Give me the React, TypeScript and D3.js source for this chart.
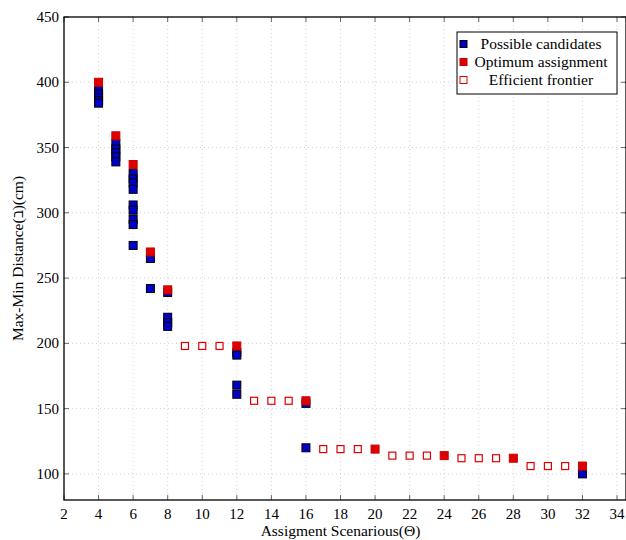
import React, { useRef, useEffect } from "react";
import * as d3 from "d3";

// possible candidates (blue)
const candX = [4, 4, 4, 4, 4, 5, 5, 5, 5, 5, 6, 6, 6, 6, 6, 6, 6, 6, 6, 7, 7, 8, 8, 8, 8, 12, 12, 12, 12, 16, 16, 32];
const candY = [394, 391, 388, 386, 384, 353, 349, 346, 343, 339, 330, 326, 323, 318, 306, 302, 295, 291, 275, 265, 242, 239, 220, 216, 213, 193, 191, 168, 161, 154, 120, 100];

// optimum assignment (red)
const optX = [4, 5, 6, 7, 8, 12, 16, 20, 24, 28, 32];
const optY = [400, 359, 337, 270, 241, 198, 156, 119, 114, 112, 106];

// efficient frontier (open red)
const frontX = [9, 10, 11, 13, 14, 15, 17, 18, 19, 21, 22, 23, 25, 26, 27, 29, 30, 31];
const frontY = [198, 198, 198, 156, 156, 156, 119, 119, 119, 114, 114, 114, 112, 112, 112, 106, 106, 106];

const xTicks = [2, 4, 6, 8, 10, 12, 14, 16, 18, 20, 22, 24, 26, 28, 30, 32, 34];
const yTicks = [100, 150, 200, 250, 300, 350, 400, 450];

const legendLabels = ["Possible candidates", "Optimum assignment", "Efficient frontier"];

const FONT = "'Liberation Serif', 'DejaVu Serif', serif";

const drawChart = (svgEl: SVGSVGElement) => {
	const width = 626,
		height = 540;
	const left = 64,
		right = 626,
		top = 17,
		bottom = 500;

	const svg = d3.select(svgEl);
	svg.selectAll("*").remove();
	svg.attr("width", width).attr("height", height);

	const x = d3.scaleLinear().domain([2, 34.52]).range([left, right]);
	const y = d3.scaleLinear().domain([80, 450]).range([bottom, top]);

	// grid
	const grid = svg.append("g").attr("stroke", "#c8c8c8").attr("stroke-width", 0.8).attr("stroke-dasharray", "1,3");
	grid
		.selectAll("line.gx")
		.data(xTicks)
		.enter()
		.append("line")
		.attr("x1", (d) => x(d))
		.attr("x2", (d) => x(d))
		.attr("y1", top)
		.attr("y2", bottom);
	grid
		.selectAll("line.gy")
		.data(yTicks)
		.enter()
		.append("line")
		.attr("x1", left)
		.attr("x2", right)
		.attr("y1", (d) => y(d))
		.attr("y2", (d) => y(d));

	// inward ticks on all sides
	const ticks = svg.append("g").attr("stroke", "#444").attr("stroke-width", 0.8);
	xTicks.forEach((t) => {
		ticks.append("line").attr("x1", x(t)).attr("x2", x(t)).attr("y1", bottom).attr("y2", bottom - 5);
		ticks.append("line").attr("x1", x(t)).attr("x2", x(t)).attr("y1", top).attr("y2", top + 5);
	});
	yTicks.forEach((t) => {
		ticks.append("line").attr("x1", left).attr("x2", left + 5).attr("y1", y(t)).attr("y2", y(t));
		ticks.append("line").attr("x1", right).attr("x2", right - 5).attr("y1", y(t)).attr("y2", y(t));
	});

	// box
	svg
		.append("rect")
		.attr("x", left)
		.attr("y", top)
		.attr("width", right - left)
		.attr("height", bottom - top)
		.attr("fill", "none")
		.attr("stroke", "#000")
		.attr("stroke-width", 1.3);

	// tick labels
	svg
		.append("g")
		.selectAll("text")
		.data(xTicks)
		.enter()
		.append("text")
		.attr("x", (d) => x(d))
		.attr("y", bottom + 19)
		.attr("text-anchor", "middle")
		.attr("font-family", FONT)
		.attr("font-size", 15)
		.text((d) => d);
	svg
		.append("g")
		.selectAll("text")
		.data(yTicks)
		.enter()
		.append("text")
		.attr("x", left - 5)
		.attr("y", (d) => y(d) + 5)
		.attr("text-anchor", "end")
		.attr("font-family", FONT)
		.attr("font-size", 15)
		.text((d) => d);

	// axis titles
	svg
		.append("text")
		.attr("x", (left + 617) / 2)
		.attr("y", 536)
		.attr("text-anchor", "middle")
		.attr("font-family", FONT)
		.attr("font-size", 15.5)
		.text("Assigment Scenarious(Θ)");
	svg
		.append("text")
		.attr("transform", `translate(23, ${(top + bottom) / 2}) rotate(-90)`)
		.attr("text-anchor", "middle")
		.attr("font-family", FONT)
		.attr("font-size", 15.5)
		.text("Max-Min Distance(ℶ)(cm)");

	const s = 8;
	const marks = svg.append("g");

	marks
		.selectAll("rect.cand")
		.data(candX.map((v, i) => [v, candY[i]]))
		.enter()
		.append("rect")
		.attr("x", (d) => x(d[0]) - s / 2)
		.attr("y", (d) => y(d[1]) - s / 2)
		.attr("width", s)
		.attr("height", s)
		.attr("fill", "#0000c8")
		.attr("stroke", "#000")
		.attr("stroke-width", 1);

	marks
		.selectAll("rect.opt")
		.data(optX.map((v, i) => [v, optY[i]]))
		.enter()
		.append("rect")
		.attr("x", (d) => x(d[0]) - s / 2)
		.attr("y", (d) => y(d[1]) - s / 2)
		.attr("width", s)
		.attr("height", s)
		.attr("fill", "#dd0000")
		.attr("stroke", "#cc0000")
		.attr("stroke-width", 1);

	marks
		.selectAll("rect.front")
		.data(frontX.map((v, i) => [v, frontY[i]]))
		.enter()
		.append("rect")
		.attr("x", (d) => x(d[0]) - s / 2 + 0.5)
		.attr("y", (d) => y(d[1]) - s / 2 + 0.5)
		.attr("width", s - 1)
		.attr("height", s - 1)
		.attr("fill", "#fff")
		.attr("stroke", "#e00000")
		.attr("stroke-width", 1.2);

	// legend
	const lg = svg.append("g").attr("transform", "translate(457, 32)");
	lg.append("rect")
		.attr("width", 160)
		.attr("height", 62)
		.attr("fill", "#fff")
		.attr("stroke", "#000")
		.attr("stroke-width", 1);
	const styles = [
		{ fill: "#0000c8", stroke: "#000" },
		{ fill: "#dd0000", stroke: "#cc0000" },
		{ fill: "#fff", stroke: "#e00000" },
	];
	legendLabels.forEach((lab, i) => {
		const cy = 12 + i * 18;
		lg.append("rect")
			.attr("x", 3)
			.attr("y", cy - 3.5)
			.attr("width", 7)
			.attr("height", 7)
			.attr("fill", styles[i].fill)
			.attr("stroke", styles[i].stroke)
			.attr("stroke-width", 1);
		lg.append("text")
			.attr("x", 84)
			.attr("y", cy + 5)
			.attr("text-anchor", "middle")
			.attr("font-family", FONT)
			.attr("font-size", 15.5)
			.text(lab);
	});
};

const App = () => {
	const svgRef = useRef<SVGSVGElement>(null);

	useEffect(() => {
		if (svgRef.current) drawChart(svgRef.current);
	}, []);

	return (
		<div style={{ position: "absolute", left: 0, top: 0 }}>
			<svg ref={svgRef} style={{ display: "block", background: "#fff" }} />
		</div>
	);
};

export default App;
